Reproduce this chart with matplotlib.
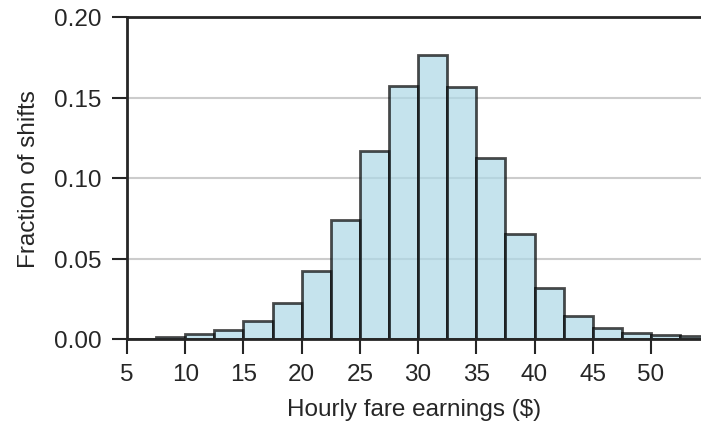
import numpy as np
import matplotlib
matplotlib.use("Agg")
import matplotlib.pyplot as plt

# histogram of hourly fare earnings, bins of $2.50
bin_edges = np.arange(5, 57.5, 2.5)
fractions = [0.0003, 0.0014, 0.0029, 0.0054, 0.0110, 0.0222, 0.0424, 0.0741,
             0.1168, 0.1571, 0.1762, 0.1565, 0.1124, 0.0654, 0.0317, 0.0141,
             0.0066, 0.0039, 0.0027, 0.0020]
x_ticks = [5, 10, 15, 20, 25, 30, 35, 40, 45, 50]
y_ticks = [0.00, 0.05, 0.10, 0.15, 0.20]

plt.rcParams["font.family"] = ["Liberation Sans", "DejaVu Sans"]
dark = "#262626"

fig = plt.figure(figsize=(7.01, 4.31), dpi=100)
ax = fig.add_axes([127/701, 91/431, 1 - 127/701, 322/431])

ax.hist(bin_edges[:-1], bins=bin_edges, weights=fractions,
        color="lightblue", alpha=0.7, edgecolor="black", linewidth=2, zorder=2)

ax.set_xlim(5, 54.3)
ax.set_ylim(0, 0.20)
ax.set_xticks(x_ticks)
ax.set_yticks(y_ticks)
ax.set_yticklabels([f"{v:.2f}" for v in y_ticks])
ax.yaxis.grid(True, color="#cccccc", linewidth=1.5, zorder=0)
ax.set_axisbelow(True)

for side in ["left", "top", "bottom"]:
    ax.spines[side].set_color(dark)
    ax.spines[side].set_linewidth(2)
ax.spines["right"].set_visible(False)
ax.tick_params(axis="both", direction="out", length=11, width=1.5,
               color=dark, labelcolor=dark, labelsize=17.5)
ax.tick_params(axis="x", pad=6.5)
ax.tick_params(axis="y", pad=7.5)

ax.set_xlabel("Hourly fare earnings ($)", fontsize=17.5, color=dark, labelpad=9)
ax.set_ylabel("Fraction of shifts", fontsize=17.5, color=dark, labelpad=10)

fig.savefig("out.png", dpi=100)
